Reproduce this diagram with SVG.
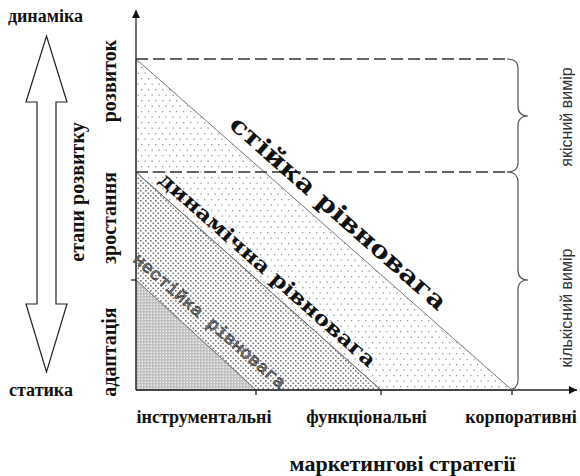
<svg xmlns="http://www.w3.org/2000/svg" width="580" height="476" viewBox="0 0 580 476">
  <style>
    .lbl { font-family: "Liberation Serif", "Times New Roman", serif; font-weight: bold; fill: #111; }
    .side { font-family: "Liberation Serif", "Times New Roman", serif; font-weight: bold; fill: #111; font-size: 20px; }
    .dim { font-family: "Liberation Sans", Arial, sans-serif; fill: #333; font-size: 16px; }
    .diag { font-family: "DejaVu Serif", "Liberation Serif", serif; font-weight: bold; fill: #111; }
    .zone { stroke: #777; stroke-width: 1; }
    .dash { stroke: #333; stroke-width: 1.3; stroke-dasharray: 12 5; fill: none; }
    .brace { stroke: #555; stroke-width: 1.2; fill: none; }
    .axis { stroke: #222; stroke-width: 1.3; fill: none; }
  </style>
  <defs>
    <pattern id="dotsSparse" width="7" height="11" patternUnits="userSpaceOnUse">
      <rect x="1" y="1" width="1.3" height="1.3" fill="#999"/>
      <rect x="4.5" y="6.5" width="1.3" height="1.3" fill="#999"/>
    </pattern>
    <pattern id="dotsDense" width="5" height="5" patternUnits="userSpaceOnUse">
      <rect x="0" y="0" width="1.6" height="1.6" fill="#777"/>
      <rect x="2.5" y="2.5" width="1.6" height="1.6" fill="#777"/>
    </pattern>
    <pattern id="grain" width="3" height="3" patternUnits="userSpaceOnUse">
      <rect width="3" height="3" fill="#bdbdbd"/>
      <rect x="0.5" y="0.5" width="1.6" height="1.6" fill="#f0f0f0"/>
    </pattern>
    <marker id="tip" viewBox="0 0 10 10" refX="10" refY="5" markerWidth="8" markerHeight="8" markerUnits="userSpaceOnUse" orient="auto">
      <path d="M0,0 L10,5 L0,10 z" fill="#111"/>
    </marker>
  </defs>

  <!-- scale arrow: statics to dynamics -->
  <g id="stage-arrow">
    <path d="M46.5,36 L67,102 L56,102 L56,304 L67,304 L46.5,372 L26,304 L37,304 L37,102 L26,102 Z" fill="#fff" stroke="#222" stroke-width="1.2"/>
  </g>
  <g id="dynamics"><text class="lbl" x="45.5" y="22" font-size="18" text-anchor="middle">динаміка</text></g>
  <g id="statics"><text class="lbl" x="41" y="396" font-size="18" text-anchor="middle">статика</text></g>
  <g id="stages"><text class="side" transform="translate(84,192) rotate(-90)" text-anchor="middle">етапи розвитку</text></g>

  <!-- stage labels along the vertical axis -->
  <g id="stage-development"><text class="side" transform="translate(116,81) rotate(-90)" text-anchor="middle">розвиток</text></g>
  <g id="stage-growth"><text class="side" transform="translate(116,218) rotate(-90)" text-anchor="middle">зростання</text></g>
  <g id="stage-adaptation"><text class="side" transform="translate(116,352) rotate(-90)" text-anchor="middle">адаптація</text></g>

  <!-- equilibrium zones -->
  <g id="zone-stable">
    <polygon class="zone" points="136,59 512,390 381,390 136,172" fill="url(#dotsSparse)"/>
  </g>
  <g id="zone-dynamic">
    <polygon class="zone" points="136,172 381,390 256,390 136,280" fill="url(#dotsDense)"/>
  </g>
  <g id="zone-unstable">
    <polygon class="zone" points="136,280 256,390 136,390" fill="url(#grain)"/>
  </g>

  <!-- axes, level lines and braces -->
  <g id="connectors">
    <line class="axis" x1="136" y1="390" x2="136" y2="10" marker-end="url(#tip)"/>
    <line class="axis" x1="136" y1="390" x2="577" y2="390" marker-end="url(#tip)"/>
    <line class="axis" x1="256" y1="390" x2="256" y2="395"/>
    <line class="axis" x1="381" y1="390" x2="381" y2="395"/>
    <line class="axis" x1="512" y1="390" x2="512" y2="395"/>
    <line class="axis" x1="131" y1="280" x2="136" y2="280"/>
    <line class="dash" x1="136" y1="59" x2="507" y2="59"/>
    <line class="dash" x1="136" y1="172" x2="507" y2="172"/>
    <path class="brace" d="M507,59 Q518,59 518,68 L518,106 Q518,116 528,116 Q518,116 518,126 L518,163 Q518,172 507,172"/>
    <path class="brace" d="M507,172 Q518,172 518,182 L518,270 Q518,280 528,280 Q518,280 518,290 L518,380 Q518,390 507,390"/>
  </g>

  <!-- zone captions -->
  <g id="label-stable"><text class="diag" font-size="24" transform="translate(333,219) rotate(41.4)" text-anchor="middle" textLength="280" lengthAdjust="spacingAndGlyphs">стійка рівновага</text></g>
  <g id="label-dynamic"><text class="diag" font-size="20" transform="translate(263,275) rotate(41.5)" text-anchor="middle" textLength="282" lengthAdjust="spacingAndGlyphs">динамічна рівновага</text></g>
  <g id="label-unstable"><text font-family="'Liberation Mono', 'Courier New', monospace" font-size="17" fill="#999" stroke="#333" stroke-width="0.7" transform="translate(206,325) rotate(41)" text-anchor="middle" textLength="196" lengthAdjust="spacingAndGlyphs">нестійка рівновага</text></g>

  <!-- measurement captions -->
  <g id="dim-quality"><text class="dim" transform="translate(572,117) rotate(-90)" text-anchor="middle">якісний вимір</text></g>
  <g id="dim-quantity"><text class="dim" transform="translate(572,308) rotate(-90)" text-anchor="middle">кількісний вимір</text></g>

  <!-- strategy levels -->
  <g id="strategy-instrumental"><text class="lbl" x="204" y="423" font-size="18" text-anchor="middle">інструментальні</text></g>
  <g id="strategy-functional"><text class="lbl" x="366.5" y="423" font-size="18" text-anchor="middle">функціональні</text></g>
  <g id="strategy-corporate"><text class="lbl" x="521" y="423" font-size="18" text-anchor="middle">корпоративні</text></g>
  <g id="strategies"><text class="lbl" x="402.5" y="471" font-size="22" text-anchor="middle">маркетингові стратегії</text></g>
</svg>
